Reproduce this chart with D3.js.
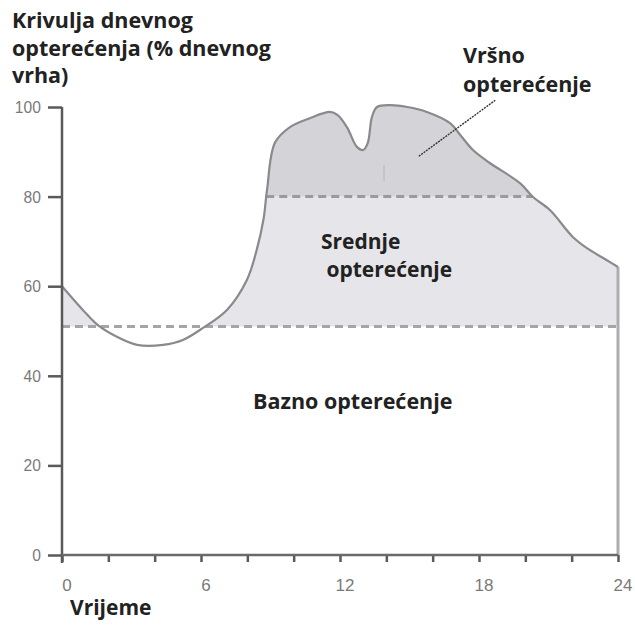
<!DOCTYPE html>
<html><head><meta charset="utf-8">
<script src="https://cdn.jsdelivr.net/npm/d3@7"></script>
<style>body{margin:0;background:#fff}svg{display:block}</style>
</head><body>
<script>
// ---- data ----
const hours = [0, 0.13, 0.9, 1.55, 2.37, 3.24, 4.36, 5.22, 6.09, 7.12, 7.98, 8.4, 8.7, 8.85, 9.19, 9.84, 10.7, 11.57, 11.9, 12.3, 12.73, 13.0, 13.2, 13.38, 13.6, 14.16, 14.9, 15.75, 16.75, 17.2, 17.74, 18.47, 19.77, 20.33, 21.06, 22.05, 22.66, 23.52, 24];
const load  = [60, 59.2, 54.7, 51.3, 48.7, 46.9, 46.9, 48, 50.7, 54.7, 61.4, 68, 75, 81.5, 92, 95.5, 97.5, 98.9, 98.2, 95.5, 91.1, 90.4, 92, 97.8, 100, 100.4, 100, 98.9, 96.4, 93.7, 90.4, 87.5, 83, 79.9, 77, 71, 68.5, 65.8, 64.3];
const xTicks = [0, 2, 4, 6, 8, 10, 12, 14, 16, 18, 20, 22, 24];
const xTickLabels = [0, 6, 12, 18, 24];
const yTicks = [0, 20, 40, 60, 80, 100];
const baseLevel = 51;
const peakLevel = 80;
const titleLines = ["Krivulja dnevnog", "opterećenja (% dnevnog", "vrha)"];
const peakLabel = ["Vršno", "opterećenje"];
const midLabel = ["Srednje", " opterećenje"];
const baseLabel = "Bazno opterećenje";
const xTitle = "Vrijeme";
const pointer = [[15.4, 89], [18.7, 101.5]];
const markLine = [[13.9, 87], [13.9, 83.5]];

// ---- chart ----
const W = 635, H = 626;
const svg = d3.select("body").append("svg").attr("width", W).attr("height", H);
const x = d3.scaleLinear().domain([0, 24]).range([62, 618]);
const y = d3.scaleLinear().domain([0, 100]).range([555, 107]);
const pts = hours.map((h, i) => [h, load[i]]);

const defs = svg.append("defs");
defs.append("clipPath").attr("id", "peakClip").append("rect")
  .attr("x", x(0)).attr("y", 0).attr("width", x(24) - x(0)).attr("height", y(peakLevel));
defs.append("clipPath").attr("id", "midClip").append("rect")
  .attr("x", x(0)).attr("y", y(peakLevel)).attr("width", x(24) - x(0)).attr("height", y(baseLevel) - y(peakLevel));

const curve = d3.curveCatmullRom.alpha(0.5);
const area = d3.area().x(d => x(d[0])).y0(y(0)).y1(d => y(d[1])).curve(curve);
const line = d3.line().x(d => x(d[0])).y(d => y(d[1])).curve(curve);

svg.append("path").datum(pts).attr("d", area).attr("fill", "#e6e6ea").attr("clip-path", "url(#midClip)");
svg.append("path").datum(pts).attr("d", area).attr("fill", "#d4d4d8").attr("clip-path", "url(#peakClip)");

// small artifact line
svg.append("line").attr("x1", x(markLine[0][0])).attr("x2", x(markLine[1][0]))
  .attr("y1", y(markLine[0][1])).attr("y2", y(markLine[1][1])).attr("stroke", "#b5b5b8").attr("stroke-width", 1);

// dashed levels
function crossings(level) {
  const res = [];
  for (let i = 1; i < pts.length; i++) {
    const [h0, v0] = pts[i - 1], [h1, v1] = pts[i];
    if ((v0 - level) * (v1 - level) < 0) res.push(h0 + (level - v0) / (v1 - v0) * (h1 - h0));
  }
  return res;
}
const pc = crossings(peakLevel);
svg.append("line").attr("x1", x(pc[0])).attr("x2", x(pc[pc.length - 1]))
  .attr("y1", y(peakLevel)).attr("y2", y(peakLevel))
  .attr("stroke", "#9a9a9c").attr("stroke-width", 3).attr("stroke-dasharray", "8,5");
svg.append("line").attr("x1", x(0)).attr("x2", x(24))
  .attr("y1", y(baseLevel)).attr("y2", y(baseLevel))
  .attr("stroke", "#a5a5a8").attr("stroke-width", 3).attr("stroke-dasharray", "8,5");

// right border
svg.append("line").attr("x1", x(24)).attr("x2", x(24))
  .attr("y1", y(load[load.length - 1])).attr("y2", y(0))
  .attr("stroke", "#adadb0").attr("stroke-width", 3);

// curve
svg.append("path").datum(pts).attr("d", line).attr("fill", "none")
  .attr("stroke", "#8a8a8c").attr("stroke-width", 2.2);

// axes
const axCol = "#5a5a5a";
const yAxis = svg.append("g").attr("transform", `translate(${x(0)},0)`)
  .call(d3.axisLeft(y).tickValues(yTicks).tickSize(14).tickPadding(6));
yAxis.select(".domain").remove();
yAxis.selectAll(".tick line").attr("stroke", axCol).attr("stroke-width", 2.5);
yAxis.selectAll(".tick text").attr("fill", "#7a7a7a").attr("font-family", "Liberation Sans, Arial, sans-serif")
  .attr("font-size", 17).attr("transform", "scale(0.92,1)").attr("dx", -3);
svg.append("line").attr("x1", x(0)).attr("x2", x(0)).attr("y1", y(100)).attr("y2", y(0) + 8)
  .attr("stroke", axCol).attr("stroke-width", 2.5);

const xAxis = svg.append("g").attr("transform", `translate(0,${y(0)})`)
  .call(d3.axisBottom(x).tickValues(xTicks).tickSize(7).tickFormat(""));
xAxis.select(".domain").remove();
xAxis.selectAll(".tick line").attr("stroke", axCol).attr("stroke-width", 2.5);
svg.append("line").attr("x1", x(0)).attr("x2", x(24)).attr("y1", y(0)).attr("y2", y(0))
  .attr("stroke", "#6a6a6a").attr("stroke-width", 2.5);
svg.append("g").selectAll("text").data(xTickLabels).join("text")
  .attr("x", d => x(d) + 5).attr("y", y(0) + 36).attr("text-anchor", "middle")
  .attr("fill", "#7a7a7a").attr("font-family", "Liberation Sans, Arial, sans-serif").attr("font-size", 17)
  .text(d => d);

// pointer line
svg.append("line").attr("x1", x(pointer[0][0])).attr("y1", y(pointer[0][1]))
  .attr("x2", x(pointer[1][0])).attr("y2", y(pointer[1][1]))
  .attr("stroke", "#333").attr("stroke-width", 1.4).attr("stroke-dasharray", "2,1");

// texts
const fam = "'Open Sans', Lato, sans-serif";
function txt(lines, tx, ty, lh, size) {
  const t = svg.append("text").attr("font-family", fam).attr("font-weight", 700)
    .attr("font-size", size).attr("fill", "#222").attr("xml:space", "preserve");
  lines.forEach((l, i) => t.append("tspan").attr("x", tx).attr("y", ty + i * lh).text(l));
}
txt(titleLines, 12, 28, 27.5, 21.5);
txt(peakLabel, 463, 63, 29, 21.5);
txt(midLabel, 321, 249, 28, 21);
txt([baseLabel], 253, 409, 0, 21.5);
txt([xTitle], 70, 615, 0, 21);
</script>
</body></html>
